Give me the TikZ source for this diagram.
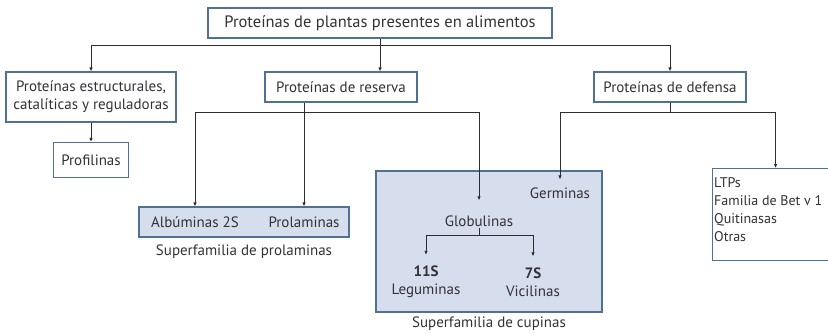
\documentclass[tikz,border=0pt]{standalone}
\usepackage{fontspec}
\setmainfont{PT Sans}
\usetikzlibrary{arrows.meta}
\definecolor{boxblue}{RGB}{80,112,150}
\definecolor{groupfill}{RGB}{214,221,236}
\definecolor{linegray}{RGB}{45,45,45}
\definecolor{textgray}{RGB}{50,50,55}
\tikzset{
  box/.style={draw=boxblue, line width=1.1pt, fill=white, inner sep=2pt, align=center},
  group/.style={draw=boxblue, line width=1.1pt, fill=groupfill},
  conn/.style={draw=linegray, line width=0.9pt},
  arr/.style={conn, -{Latex[length=4pt,width=3.5pt]}},
  lbl/.style={inner sep=1pt, align=center}
}

\begin{document}
\begin{tikzpicture}[x=1pt,y=-1pt,font=\fontsize{15}{18}\selectfont,text=textgray]
            \useasboundingbox (0,0) rectangle (828,335);
            \clip (0,0) rectangle (828,335);
            % first and second level
            \node[box, minimum width=344pt, minimum height=30pt, font=\fontsize{16.5}{18}\selectfont] (plantas) at (380,23) {Proteínas de plantas presentes en alimentos};
            \node[box, minimum width=170pt, minimum height=50pt] (estruct) at (91,97) {Proteínas estructurales,\\catalíticas y reguladoras};
            \node[box, minimum width=152pt, minimum height=30pt] (reserva) at (341,87) {Proteínas de reserva};
            \node[box, minimum width=152pt, minimum height=30pt] (defensa) at (670,87) {Proteínas de defensa};
            \node[box, minimum width=75pt, minimum height=35pt] (profil) at (91,160) {Profilinas};
            % superfamilia de prolaminas
            \node[group, minimum width=210pt, minimum height=30pt] (prolbox) at (244,222) {};
            \node[lbl] (albu) at (195,222) {Albúminas 2S};
            \node[lbl] (prolam) at (304,222) {Prolaminas};
            \node[lbl] (prollbl) at (244,252) {Superfamilia de prolaminas};
            % superfamilia de cupinas
            \node[group, minimum width=226pt, minimum height=141pt] (cupbox) at (489,241.5) {};
            \node[lbl] (germ) at (560,193) {Germinas};
            \node[lbl] (glob) at (479,221) {Globulinas};
            \node[lbl] (legum) at (426,282) {\textbf{11S}\\Leguminas};
            \node[lbl] (vicil) at (533,282) {\textbf{7S}\\Vicilinas};
            \node[lbl] (cuplbl) at (489,324) {Superfamilia de cupinas};
            % otras de defensa
            \node[box, minimum width=126pt, minimum height=92pt, anchor=north west] (defbox) at (712,168) {};
            \node[lbl, align=left, anchor=north west, font=\fontsize{14}{18}\selectfont] (otras) at ([xshift=1pt,yshift=-8pt]defbox.north west) {LTPs\\Familia de Bet v 1\\Quitinasas\\Otras};
            % connectors
            \coordinate (tj) at (plantas.south |- 0,45);
            \draw[conn] (plantas.south) -- (tj);
            \draw[arr] (tj) -| (estruct.north);
            \draw[arr] (tj) -| (defensa.north);
            \draw[arr] (tj) -- (tj |- reserva.north);
            \draw[arr] (estruct.south) -- (profil.north);
            \coordinate (rj) at (304,112);
            \draw[conn] (rj |- reserva.south) -- (rj);
            \draw[arr] (rj) -| (albu.north |- prolbox.north);
            \draw[arr] (rj) -- (rj |- prolbox.north);
            \draw[arr, shorten >=14pt] (rj) -| (glob.north);
            \coordinate (dj) at (defensa.south |- 0,112);
            \draw[conn] (defensa.south) -- (dj);
            \draw[arr, shorten >=7pt] (dj) -| (germ.north);
            \draw[arr] (dj) -| (defbox.north);
            \coordinate (gj) at (glob.south |- 0,235);
            \draw[conn] (glob.south) -- (gj);
            \draw[arr, shorten >=10pt] (gj) -| (legum.north);
            \draw[arr, shorten >=10pt] (gj) -| (vicil.north);
\end{tikzpicture}
\end{document}
